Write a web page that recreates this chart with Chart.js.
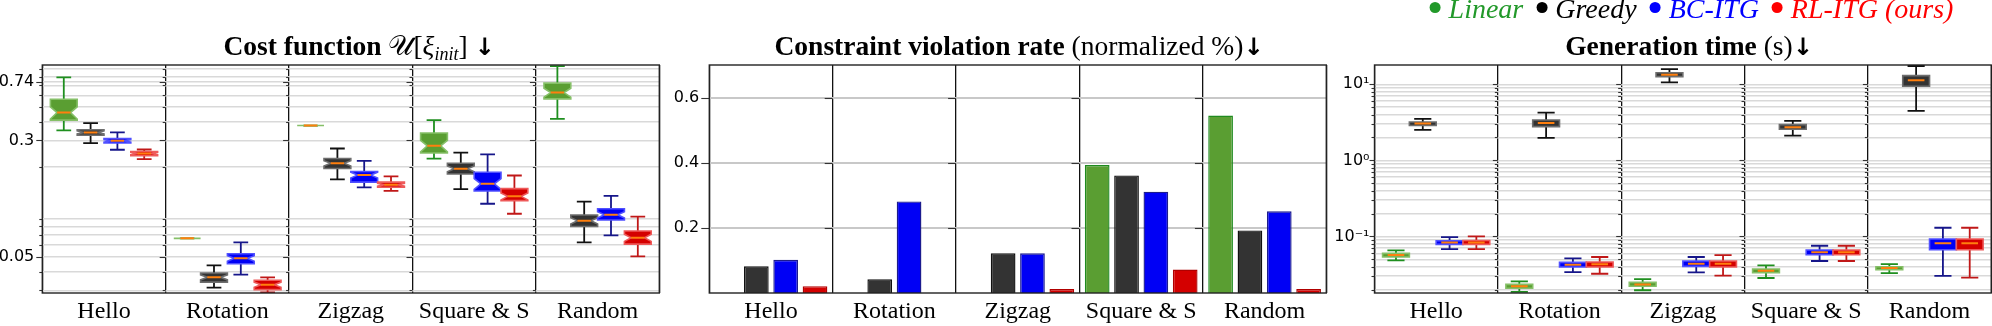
<!DOCTYPE html>
<html><head><meta charset="utf-8">
<script src="https://cdn.jsdelivr.net/npm/chart.js@4.4.1/dist/chart.umd.min.js"></script>
<style>
html,body{margin:0;padding:0;background:#fff;}
#wrap{position:relative;width:1992px;height:326px;overflow:hidden;background:#fff;}
canvas{position:absolute;top:0;}
.title{position:absolute;top:32px;white-space:nowrap;font-family:'Liberation Serif','Times New Roman',serif;font-size:27.5px;line-height:1;color:#000;transform:translateX(-50%);}
.title b{font-weight:bold;}
.title .arr{font-family:'DejaVu Sans',sans-serif;font-weight:bold;font-size:24px;}
.title sub{font-size:18px;font-style:italic;vertical-align:-5px;line-height:0;}
#legend{position:absolute;top:-5px;left:1685px;transform:translateX(-50%);white-space:nowrap;font-family:'Liberation Serif',serif;font-style:italic;font-size:28px;line-height:1;}
#legend .dot{display:inline-block;width:11px;height:11px;border-radius:50%;margin:0 8px 0 13px;vertical-align:5px;}
</style></head>
<body><div id="wrap">
<canvas id="c1" width="668" height="326" style="left:0px"></canvas>
<canvas id="c2" width="662" height="326" style="left:668px"></canvas>
<canvas id="c3" width="662" height="326" style="left:1330px"></canvas>
<div class="title" style="left:359px"><b>Cost function</b> <span>&#x1D4B0;[<i>ξ</i><sub>init</sub>]</span> <span class="arr">↓</span></div>
<div class="title" style="left:1019px"><b>Constraint violation rate</b> (normalized %)<span class="arr">↓</span></div>
<div class="title" style="left:1689px"><b>Generation time</b> (s)<span class="arr">↓</span></div>
<div id="legend"><span class="dot" style="background:#22992a"></span><span style="color:#22992a">Linear</span><span class="dot" style="background:#000"></span><span style="color:#000">Greedy</span><span class="dot" style="background:#0000ff"></span><span style="color:#0000ff">BC-ITG</span><span class="dot" style="background:#ff0000"></span><span style="color:#ff0000">RL-ITG (ours)</span></div>
</div>
<script>
const categories = ['Hello', 'Rotation', 'Zigzag', 'Square & S', 'Random'];
const methods = ['Linear', 'Greedy', 'BC-ITG', 'RL-ITG (ours)'];

// Cost function U[xi_init]: [lower whisker, Q1, median, Q3, upper whisker] per category
const costLinear = [[0.35,0.41,0.46,0.565,0.79],[0.0666,0.0666,0.0666,0.0666,0.0666],[0.377,0.377,0.377,0.377,0.377],[0.227,0.247,0.276,0.336,0.41],[0.418,0.568,0.626,0.723,0.94]];
const costGreedy = [[0.288,0.325,0.339,0.353,0.391],[0.0312,0.034,0.0366,0.0391,0.044],[0.165,0.195,0.211,0.227,0.265],[0.142,0.179,0.194,0.211,0.249],[0.0626,0.080,0.0873,0.0953,0.117]];
const costBC = [[0.26,0.288,0.298,0.309,0.339],[0.0381,0.0451,0.049,0.0526,0.0626],[0.146,0.158,0.176,0.186,0.219],[0.1134,0.138,0.154,0.184,0.242],[0.0697,0.0883,0.0957,0.105,0.128]];
const costRL = [[0.225,0.237,0.2455,0.253,0.261],[0.029,0.0303,0.0327,0.035,0.0366],[0.138,0.146,0.152,0.158,0.1725],[0.0972,0.119,0.127,0.143,0.175],[0.0505,0.061,0.0673,0.0745,0.0929]];

// Constraint violation rate (normalized %)
const violLinear = [0, 0, 0, 0.393, 0.545];
const violGreedy = [0.082, 0.042, 0.122, 0.361, 0.192];
const violBC = [0.102, 0.281, 0.122, 0.311, 0.251];
const violRL = [0.021, 0, 0.012, 0.072, 0.012];

// Generation time (s): [lower whisker, Q1, median, Q3, upper whisker]
const timeLinear = [[0.0484,0.0536,0.0569,0.0598,0.0655],[0.0186,0.0208,0.0221,0.0234,0.0257],[0.0196,0.0221,0.0234,0.0249,0.0275],[0.0284,0.0333,0.0354,0.0373,0.0416],[0.033,0.0365,0.0384,0.040,0.0433]];
const timeGreedy = [[2.51,2.87,3.05,3.20,3.51],[1.97,2.78,3.11,3.40,4.25],[10.6,12.6,13.4,14.2,15.8],[2.12,2.57,2.73,2.95,3.30],[4.47,9.41,11.3,13.0,17.4]];
const timeBC = [[0.0682,0.0785,0.0834,0.0877,0.098],[0.034,0.0396,0.0425,0.0456,0.0514],[0.0337,0.0404,0.0438,0.0475,0.0536],[0.0475,0.0575,0.0617,0.0662,0.0754],[0.0302,0.0668,0.081,0.0923,0.13]];
const timeRL = [[0.068,0.0785,0.0834,0.0885,0.100],[0.0323,0.0396,0.043,0.046,0.0536],[0.0305,0.0396,0.0438,0.0475,0.0569],[0.0475,0.0575,0.0617,0.0662,0.0754],[0.0287,0.0668,0.081,0.0923,0.13]];

// Tick labels / grid values
const costTickValues = [0.05, 0.3, 0.74];
const costTickLabels = ['0.05', '0.3', '0.74'];
const costGridValues = [0.03,0.04,0.05,0.06,0.07,0.08,0.09,0.2,0.3,0.4,0.5,0.6,0.7,0.74,0.8,0.9];
const violTickValues = [0.2, 0.4, 0.6];
const violTickLabels = ['0.2', '0.4', '0.6'];
const timeTickValues = [0.1, 1, 10];
const timeTickLabels = ['10⁻¹', '10⁰', '10¹'];
const timeGridValues = [0.02,0.03,0.04,0.05,0.06,0.07,0.08,0.09,0.1,0.2,0.3,0.4,0.5,0.6,0.7,0.8,0.9,1,2,3,4,5,6,7,8,9,10];

const fillColors = ['#5a9e32', '#333333', '#0000f5', '#d40000'];
const edgeColors = ['#86c068', '#6e6e6e', '#5050ff', '#ee5a5a'];
const whiskColors = ['#1f8f1f', '#111111', '#16168a', '#c01818'];
const barBorders = ['#1f8a1f', '#111111', '#1c1c8c', '#b00000'];
const medianColor = '#ff7f0e';
const notchSamples = 32;

function isMajor(v, majors) { return majors.some(m => Math.abs(m - v) / m < 1e-6); }
function labelFor(v, majors, labels) {
  const k = majors.findIndex(m => Math.abs(m - v) / m < 1e-6);
  return k >= 0 ? labels[k] : '';
}

function framePlugin(tickVals, majors, majorLen, minorLen) {
  return {
    id: 'frame',
    afterDraw(chart) {
      const a = chart.chartArea, ctx = chart.ctx, y = chart.scales.y;
      const n = categories.length, cw = (a.right - a.left) / n;
      ctx.save();
      ctx.strokeStyle = '#333'; ctx.lineWidth = 1.1;
      for (const v of tickVals) {
        const py = Math.round(y.getPixelForValue(v)) + 0.5;
        const len = isMajor(v, majors) ? majorLen : minorLen;
        for (let k = 0; k < n; k++) {
          const x = a.left + k * cw;
          ctx.beginPath(); ctx.moveTo(x - len, py); ctx.lineTo(x, py); ctx.stroke();
        }
      }
      ctx.strokeStyle = '#222'; ctx.lineWidth = 1.4;
      ctx.strokeRect(a.left, a.top, a.right - a.left, a.bottom - a.top);
      ctx.restore();
    }
  };
}

function boxPlugin(series, notch, medFrac, capFrac) {
  return {
    id: 'boxes',
    afterDatasetsDraw(chart) {
      const ctx = chart.ctx, y = chart.scales.y, a = chart.chartArea;
      ctx.save();
      ctx.beginPath(); ctx.rect(a.left, a.top, a.right - a.left, a.bottom - a.top); ctx.clip();
      series.forEach((ser, d) => {
        const meta = chart.getDatasetMeta(d);
        ser.forEach((s, i) => {
          const el = meta.data[i];
          const cx = el.x, w = el.width, L = cx - w / 2, R = cx + w / 2;
          const [lo, q1, med, q3, hi] = s;
          const pLo = y.getPixelForValue(lo), pQ1 = y.getPixelForValue(q1), pMed = y.getPixelForValue(med);
          const pQ3 = y.getPixelForValue(q3), pHi = y.getPixelForValue(hi);
          ctx.strokeStyle = whiskColors[d]; ctx.lineWidth = 1.8;
          const cap = w * capFrac / 2;
          ctx.beginPath();
          ctx.moveTo(cx, pQ3); ctx.lineTo(cx, pHi);
          ctx.moveTo(cx - cap, pHi); ctx.lineTo(cx + cap, pHi);
          ctx.moveTo(cx, pQ1); ctx.lineTo(cx, pLo);
          ctx.moveTo(cx - cap, pLo); ctx.lineTo(cx + cap, pLo);
          ctx.stroke();
          ctx.beginPath();
          let mL = L, mR = R;
          if (notch) {
            const ci = 1.57 * (q3 - q1) / Math.sqrt(notchSamples);
            const pNlo = y.getPixelForValue(med - ci), pNhi = y.getPixelForValue(med + ci);
            mL = cx - w / 4; mR = cx + w / 4;
            ctx.moveTo(L, pQ1); ctx.lineTo(R, pQ1); ctx.lineTo(R, pNlo); ctx.lineTo(mR, pMed);
            ctx.lineTo(R, pNhi); ctx.lineTo(R, pQ3); ctx.lineTo(L, pQ3); ctx.lineTo(L, pNhi);
            ctx.lineTo(mL, pMed); ctx.lineTo(L, pNlo); ctx.closePath();
          } else {
            ctx.rect(L, pQ3, w, pQ1 - pQ3);
            mL = cx - w * medFrac / 2; mR = cx + w * medFrac / 2;
          }
          ctx.fillStyle = fillColors[d]; ctx.fill();
          ctx.strokeStyle = edgeColors[d]; ctx.lineWidth = 1.6; ctx.stroke();
          ctx.strokeStyle = medianColor; ctx.lineWidth = 2;
          ctx.beginPath(); ctx.moveTo(mL, pMed); ctx.lineTo(mR, pMed); ctx.stroke();
        });
      });
      ctx.restore();
    }
  };
}

function xScale() {
  return {
    type: 'category', offset: true,
    grid: { offset: true, color: '#111', lineWidth: 1.3, drawTicks: false },
    border: { display: false },
    ticks: { font: { family: 'Liberation Serif', size: 24 }, color: '#000', padding: 4, maxRotation: 0, autoSkip: false },
    afterFit(s) { s.height = 33; }
  };
}

function boxChart(id, series, opts) {
  new Chart(document.getElementById(id), {
    type: 'bar',
    data: {
      labels: categories,
      datasets: series.map((ser, d) => ({
        label: methods[d],
        data: ser.map(s => [s[1], s[3]]),
        backgroundColor: 'rgba(0,0,0,0)', borderWidth: 0,
        categoryPercentage: 0.869, barPercentage: 1.0
      }))
    },
    options: {
      responsive: false, animation: false, devicePixelRatio: 1, events: [],
      layout: { padding: { top: 65, left: 0, right: opts.padRight, bottom: 0 } },
      plugins: { legend: { display: false }, tooltip: { enabled: false } },
      scales: {
        x: xScale(),
        y: {
          type: 'logarithmic', min: opts.min, max: opts.max,
          grid: { color: '#d9d9d9', lineWidth: 1.5, drawTicks: false },
          border: { display: false },
          ticks: { font: { family: 'DejaVu Sans', size: 16 }, color: '#000', padding: opts.labelPad, autoSkip: false,
                   callback: v => labelFor(v, opts.majors, opts.labels) },
          afterBuildTicks(s) { s.ticks = opts.grid.map(v => ({ value: v })); },
          afterFit(s) { s.width = opts.axisWidth; }
        }
      }
    },
    plugins: [boxPlugin(series, opts.notch, opts.medFrac, opts.capFrac), framePlugin(opts.grid, opts.majors, opts.majorLen, 3)]
  });
}

boxChart('c1', [costLinear, costGreedy, costBC, costRL], {
  min: 0.02877, max: 0.9557, padRight: 8.7, axisWidth: 42.3, labelPad: 8,
  majors: costTickValues, labels: costTickLabels, grid: costGridValues,
  notch: true, medFrac: 0.5, capFrac: 0.55, majorLen: 6
});

boxChart('c3', [timeLinear, timeGreedy, timeBC, timeRL], {
  min: 0.01803, max: 17.94, padRight: 0.8, axisWidth: 44.5, labelPad: 5,
  majors: timeTickValues, labels: timeTickLabels, grid: timeGridValues,
  notch: false, medFrac: 0.62, capFrac: 0.64, majorLen: 5
});

const violSeries = [violLinear, violGreedy, violBC, violRL];
new Chart(document.getElementById('c2'), {
  type: 'bar',
  data: {
    labels: categories,
    datasets: violSeries.map((ser, d) => ({
      label: methods[d], data: ser,
      backgroundColor: fillColors[d], borderColor: barBorders[d], borderWidth: 1.4,
      categoryPercentage: 0.951, barPercentage: 0.842
    }))
  },
  options: {
    responsive: false, animation: false, devicePixelRatio: 1, events: [],
    layout: { padding: { top: 65, left: 0, right: 3.7, bottom: 0 } },
    plugins: { legend: { display: false }, tooltip: { enabled: false } },
    scales: {
      x: xScale(),
      y: {
        type: 'linear', min: 0, max: 0.7,
        grid: { color: '#c8c8c8', lineWidth: 2, drawTicks: false },
        border: { display: false },
        ticks: { font: { family: 'DejaVu Sans', size: 16 }, color: '#000', padding: 10, autoSkip: false,
                 callback: v => labelFor(v, violTickValues, violTickLabels) },
        afterBuildTicks(s) { s.ticks = violTickValues.map(v => ({ value: v })); },
        afterFit(s) { s.width = 41.3; }
      }
    }
  },
  plugins: [framePlugin(violTickValues, violTickValues, 8, 3)]
});
</script>
</body></html>
